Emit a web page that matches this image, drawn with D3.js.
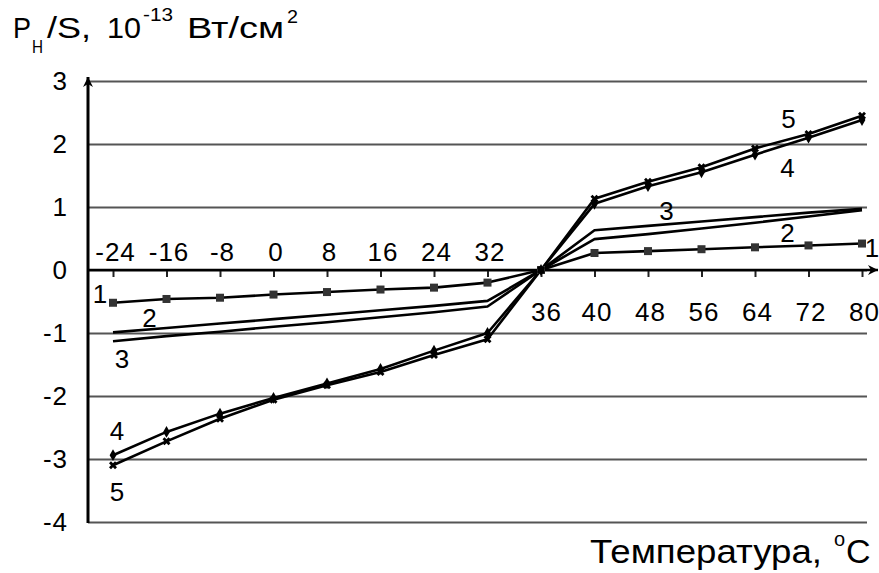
<!DOCTYPE html>
<html>
<head>
<meta charset="utf-8">
<script src="https://cdnjs.cloudflare.com/ajax/libs/d3/7.8.5/d3.min.js"></script>
<style>
  body { margin: 0; background: #fff; }
  svg { display: block; font-family: "Liberation Sans", Arial, sans-serif; }
</style>
</head>
<body>
<div class="chart"></div>
<script>
// temperatures (categorical, evenly spaced on the original chart)
var temps = [-24, -16, -8, 0, 8, 16, 24, 32, 36, 40, 48, 56, 64, 72, 80];
var yTicks = [-4, -3, -2, -1, 0, 1, 2, 3];

// P_H/S, 10^-13 W/cm2
var s1 = [-0.52, -0.46, -0.44, -0.39, -0.35, -0.31, -0.28, -0.2, 0, 0.27, 0.3, 0.33, 0.36, 0.39, 0.42];
var s2 = [-0.99, -0.92, -0.85, -0.78, -0.71, -0.64, -0.57, -0.49, 0, 0.49, 0.57, 0.66, 0.75, 0.85, 0.95];
var s3 = [-1.13, -1.05, -0.98, -0.9, -0.83, -0.75, -0.67, -0.58, 0, 0.63, 0.7, 0.77, 0.84, 0.91, 0.97];
var s4 = [-2.94, -2.57, -2.28, -2.03, -1.8, -1.57, -1.28, -1.0, 0, 1.05, 1.33, 1.55, 1.83, 2.1, 2.38];
var s5 = [-3.1, -2.72, -2.36, -2.06, -1.83, -1.62, -1.35, -1.1, 0, 1.13, 1.4, 1.63, 1.93, 2.16, 2.45];

var series = [
  {name: "1", values: s1},
  {name: "2", values: s2},
  {name: "3", values: s3},
  {name: "4", values: s4},
  {name: "5", values: s5}
];

var width = 879, height = 573;
var plot = {left: 88, right: 867, top: 81, bottom: 522};

var x = d3.scalePoint()
  .domain(temps)
  .range([113, 862]);

var y = d3.scaleLinear()
  .domain([-4, 3])
  .range([plot.bottom, plot.top]);

var line = d3.line()
  .x(function(d, i) { return x(temps[i]); })
  .y(function(d) { return y(d); });

var svg = d3.select(".chart").append("svg")
  .attr("width", width)
  .attr("height", height);

// grid lines
var grid = d3.axisLeft(y)
  .tickValues(yTicks)
  .tickSize(-(plot.right - plot.left))
  .tickFormat("");
svg.append("g")
  .attr("transform", "translate(" + plot.left + ",0)")
  .call(grid)
  .call(function(g) { g.select(".domain").remove(); })
  .selectAll("line")
    .attr("stroke", "#555")
    .attr("stroke-width", 2);

// y tick labels (plain hyphen as in the original)
var yAxis = d3.axisLeft(y)
  .tickValues(yTicks)
  .tickSize(0)
  .tickPadding(20)
  .tickFormat(function(d) { return String(d); });
var gY = svg.append("g")
  .attr("transform", "translate(" + plot.left + ",0)")
  .call(yAxis);
gY.select(".domain").remove();
gY.selectAll("text")
  .attr("font-size", 26)
  .attr("font-family", "Liberation Sans, Arial, sans-serif")
  .attr("letter-spacing", 1)
  .attr("fill", "#000");

// x axis: ticks down, labels above for negative side, below for positive side
var xAxis = d3.axisBottom(x)
  .tickSizeInner(7)
  .tickSizeOuter(0)
  .tickPadding(0);
var gX = svg.append("g")
  .attr("transform", "translate(0," + y(0) + ")")
  .call(xAxis);
gX.select(".domain").remove();
gX.selectAll("line")
  .attr("stroke", "#222")
  .attr("stroke-width", 2);
gX.selectAll("text")
  .attr("font-size", 26)
  .attr("font-family", "Liberation Sans, Arial, sans-serif")
  .attr("letter-spacing", 1)
  .attr("fill", "#000")
  .attr("dy", null)
  .attr("dx", function(d) { return d === 36 ? 5 : 2; })
  .attr("y", function(d) { return d <= 32 ? -9 : 51; });

// axis lines with arrows
svg.append("defs").append("marker")
  .attr("id", "arrow")
  .attr("viewBox", "0 0 10 10")
  .attr("refX", 10).attr("refY", 5)
  .attr("markerWidth", 14).attr("markerHeight", 10)
  .attr("markerUnits", "userSpaceOnUse")
  .attr("orient", "auto")
  .append("path")
    .attr("d", "M0,0 L10,5 L0,10 L3,5 Z")
    .attr("fill", "#000");

svg.append("line")
  .attr("x1", plot.left).attr("x2", 878)
  .attr("y1", y(0)).attr("y2", y(0))
  .attr("stroke", "#000").attr("stroke-width", 2.5)
  .attr("marker-end", "url(#arrow)");

svg.append("line")
  .attr("x1", plot.left).attr("x2", plot.left)
  .attr("y1", plot.bottom + 1).attr("y2", 77)
  .attr("stroke", "#000").attr("stroke-width", 3)
  .attr("marker-end", "url(#arrow)");

// series lines
var curves = svg.selectAll(".series")
  .data(series)
  .enter().append("g")
    .attr("class", "series");

curves.append("path")
  .attr("d", function(d) { return line(d.values); })
  .attr("fill", "none")
  .attr("stroke", "#000")
  .attr("stroke-width", 2.6)
  .attr("stroke-linejoin", "round");

// markers
svg.selectAll(".m1")
  .data(s1)
  .enter().append("rect")
    .attr("class", "m1")
    .attr("x", function(d, i) { return x(temps[i]) - 4; })
    .attr("y", function(d) { return y(d) - 4; })
    .attr("width", 8).attr("height", 8)
    .attr("fill", "#333");

var diamond = d3.symbol().type(d3.symbolDiamond).size(40);
var cross = d3.symbol().type(d3.symbolCross).size(40);

svg.selectAll(".m4")
  .data(s4)
  .enter().append("path")
    .attr("class", "m4")
    .attr("d", diamond)
    .attr("transform", function(d, i) { return "translate(" + x(temps[i]) + "," + y(d) + ")"; })
    .attr("fill", "#000");

svg.selectAll(".m5")
  .data(s5)
  .enter().append("path")
    .attr("class", "m5")
    .attr("d", cross)
    .attr("transform", function(d, i) { return "translate(" + x(temps[i]) + "," + y(d) + ") rotate(45)"; })
    .attr("fill", "#000");

// curve numbers
var curveLabels = [
  {text: "1", at: -24, v: -0.38, dx: -13},
  {text: "2", at: -16, v: -0.75, dx: -17},
  {text: "3", at: -24, v: -1.4, dx: 9},
  {text: "4", at: -24, v: -2.55, dx: 4},
  {text: "5", at: -24, v: -3.52, dx: 4},
  {text: "1", at: 80, v: 0.36, dx: 10},
  {text: "2", at: 72, v: 0.59, dx: -21},
  {text: "3", at: 56, v: 0.95, dx: -35},
  {text: "4", at: 72, v: 1.63, dx: -21},
  {text: "5", at: 72, v: 2.4, dx: -20}
];
svg.selectAll(".clabel")
  .data(curveLabels)
  .enter().append("text")
    .attr("class", "clabel")
    .attr("x", function(d) { return x(d.at) + d.dx; })
    .attr("y", function(d) { return y(d.v); })
    .attr("dy", "0.36em")
    .attr("text-anchor", "middle")
    .attr("font-size", 26)
    .text(function(d) { return d.text; });

// y title, pieces fitted to the widths seen in the original
var titleParts = [
  {t: "Р", x: 13, y: 38, size: 30, w: 18},
  {t: "Н", x: 32, y: 53, size: 19, w: 11},
  {t: "/S,", x: 47, y: 38, size: 30, w: 44},
  {t: "10", x: 107, y: 38, size: 30, w: 34},
  {t: "-13", x: 143, y: 21, size: 18, w: 30},
  {t: "Вт/см", x: 187, y: 38, size: 30, w: 97},
  {t: "2", x: 287, y: 23, size: 19, w: 11}
];
svg.selectAll(".ttl")
  .data(titleParts)
  .enter().append("text")
    .attr("class", "ttl")
    .attr("x", function(d) { return d.x; })
    .attr("y", function(d) { return d.y; })
    .attr("font-size", function(d) { return d.size; })
    .attr("textLength", function(d) { return d.w; })
    .attr("lengthAdjust", "spacingAndGlyphs")
    .text(function(d) { return d.t; });

// x title
svg.append("text")
  .attr("x", 590)
  .attr("y", 563)
  .attr("font-size", 34)
  .attr("textLength", 232)
  .attr("lengthAdjust", "spacingAndGlyphs")
  .text("Температура,");
svg.append("text")
  .attr("x", 834)
  .attr("y", 546)
  .attr("font-size", 20)
  .text("o");
svg.append("text")
  .attr("x", 846)
  .attr("y", 563)
  .attr("font-size", 34)
  .text("C");
</script>
</body>
</html>
